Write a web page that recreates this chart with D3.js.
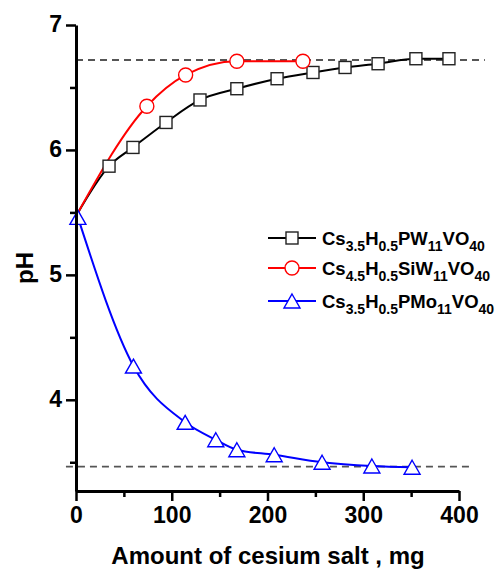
<!DOCTYPE html>
<html>
<head>
<meta charset="utf-8">
<script src="https://cdn.jsdelivr.net/npm/d3@7"></script>
<style>
  html, body { margin: 0; padding: 0; background: #fff; }
  svg { display: block; }
  text { font-family: "Liberation Sans", Arial, sans-serif; font-weight: bold; fill: #000; }
</style>
</head>
<body>
<svg id="chart" width="499" height="571"></svg>
<script>
// ---- data ----
const pwX  = [0, 34.5, 59.5, 94, 129.5, 168, 210, 247.5, 281, 315.5, 355, 389.5];
const pwY  = [5.47, 5.87, 6.02, 6.22, 6.40, 6.49, 6.57, 6.62, 6.66, 6.69, 6.73, 6.73];
const siwX = [0, 74, 114.5, 168, 237];
const siwY = [5.47, 6.35, 6.60, 6.71, 6.71];
const pmoX = [2, 60, 114, 146, 168, 207, 257, 309, 351];
const pmoY = [5.46, 4.27, 3.82, 3.68, 3.60, 3.56, 3.50, 3.47, 3.46];
const seriesNames = ["PW", "SiW", "PMo"];
const xTicks = [0, 100, 200, 300, 400];
const xMinorTicks = [50, 150, 250, 350];
const yTicks = [4, 5, 6, 7];
const yMinorTicks = [3.5, 4.5, 5.5, 6.5];
const upperLimit = 6.72, lowerLimit = 3.465;
const upperSpan = [0, 427], lowerSpan = [-10.5, 415];
const xTitle = "Amount of cesium salt , mg";
const yTitle = "pH";
// legend labels as [text, isSubscript] parts
const legendLabels = [
  [["Cs",0],["3.5",1],["H",0],["0.5",1],["PW",0],["11",1],["VO",0],["40",1]],
  [["Cs",0],["4.5",1],["H",0],["0.5",1],["SiW",0],["11",1],["VO",0],["40",1]],
  [["Cs",0],["3.5",1],["H",0],["0.5",1],["PMo",0],["11",1],["VO",0],["40",1]]
];

const svg = d3.select("#chart");
const x = d3.scaleLinear().domain([0, 400]).range([76, 459]);
const y = d3.scaleLinear().domain([3.27, 7]).range([491, 25]);

const series = [
  { name: seriesNames[0], pts: pwX.map((v,i)=>[v,pwY[i]]), color: "#000000", marker: "square" },
  { name: seriesNames[1], pts: siwX.map((v,i)=>[v,siwY[i]]), color: "#ff0000", marker: "circle" },
  { name: seriesNames[2], pts: pmoX.map((v,i)=>[v,pmoY[i]]), color: "#0000ff", marker: "triangle" }
];

// dashed limit lines
const dash = svg.append("g").attr("stroke", "#555").attr("stroke-width", 1.8).attr("stroke-dasharray", "7,5");
dash.append("line").attr("x1", x(upperSpan[0])).attr("x2", x(upperSpan[1]))
  .attr("y1", y(upperLimit)).attr("y2", y(upperLimit));
dash.append("line").attr("x1", x(lowerSpan[0])).attr("x2", x(lowerSpan[1]))
  .attr("y1", y(lowerLimit)).attr("y2", y(lowerLimit));

const line = d3.line().x(d => x(d[0])).y(d => y(d[1])).curve(d3.curveMonotoneX);

function drawMarker(g, type, color, cx, cy) {
  if (type === "square") {
    g.append("rect").attr("x", cx-6).attr("y", cy-6).attr("width", 12).attr("height", 12)
      .attr("fill", "#fff").attr("stroke", "#222").attr("stroke-width", 1.4);
  } else if (type === "circle") {
    g.append("circle").attr("cx", cx).attr("cy", cy).attr("r", 7)
      .attr("fill", "#fff").attr("stroke", color).attr("stroke-width", 1.4);
  } else {
    g.append("path").attr("d", `M${cx},${cy-7}L${cx+8},${cy+7}L${cx-8},${cy+7}Z`)
      .attr("fill", "#fff").attr("stroke", color).attr("stroke-width", 1.4);
  }
}

series.forEach(s => {
  svg.append("path").attr("d", line(s.pts)).attr("fill", "none")
    .attr("stroke", s.color).attr("stroke-width", 2);
});
series.forEach(s => {
  const g = svg.append("g");
  s.pts.forEach((p, i) => {
    if (i === 0 && s.marker !== "triangle") return; // shared start point shown once
    drawMarker(g, s.marker, s.color, x(p[0]), y(p[1]));
  });
});

// axes
function styleAxis(g, labelled) {
  g.select(".domain").attr("stroke", "#000").attr("stroke-width", 3);
  g.selectAll(".tick line").attr("stroke", "#000").attr("stroke-width", 2.5);
  g.selectAll(".tick text").style("font-size", "23px").style("font-weight", "bold")
    .style("font-family", "'Liberation Sans', Arial, sans-serif").attr("fill", "#000");
}
const gxMinor = svg.append("g").attr("transform", `translate(0,${y.range()[0]})`)
  .call(d3.axisBottom(x).tickValues(xMinorTicks).tickSize(6).tickFormat(""));
gxMinor.select(".domain").remove();
gxMinor.selectAll(".tick line").attr("stroke", "#000").attr("stroke-width", 2.5);
const gyMinor = svg.append("g").attr("transform", `translate(${x.range()[0]},0)`)
  .call(d3.axisLeft(y).tickValues(yMinorTicks).tickSize(6).tickFormat(""));
gyMinor.select(".domain").remove();
gyMinor.selectAll(".tick line").attr("stroke", "#000").attr("stroke-width", 2.5);

const gx = svg.append("g").attr("transform", `translate(0,${y.range()[0]})`)
  .call(d3.axisBottom(x).tickValues(xTicks).tickSize(10).tickSizeOuter(0).tickPadding(5).tickFormat(d3.format("d")));
styleAxis(gx);
gx.selectAll(".tick text").attr("dy", "0.72em");
const gy = svg.append("g").attr("transform", `translate(${x.range()[0]},0)`)
  .call(d3.axisLeft(y).tickValues(yTicks).tickSize(10).tickSizeOuter(0).tickPadding(4).tickFormat(d3.format("d")));
styleAxis(gy);
gy.selectAll(".tick text").attr("dy", "0.3em");

// titles
svg.append("text").attr("x", 268).attr("y", 564).attr("text-anchor", "middle")
  .style("font-size", "24px").text(xTitle);
svg.append("text").attr("transform", "translate(33,268) rotate(-90)").attr("text-anchor", "middle")
  .style("font-size", "24px").text(yTitle);

// legend
const legendY = [238, 268, 301];
series.forEach((s, i) => {
  const ly = legendY[i];
  svg.append("line").attr("x1", 268).attr("x2", 316).attr("y1", ly).attr("y2", ly)
    .attr("stroke", s.color).attr("stroke-width", 2);
  drawMarker(svg.append("g"), s.marker, s.color, 292, ly);
  const t = svg.append("text").attr("x", 322).attr("y", ly + 7).style("font-size", "18.5px");
  legendLabels[i].forEach(([txt, sub], k) => {
    const ts = t.append("tspan").text(txt);
    if (sub) ts.style("font-size", "14px").attr("dy", 6);
    else if (k > 0) ts.attr("dy", -6);
  });
});
</script>
</body>
</html>
